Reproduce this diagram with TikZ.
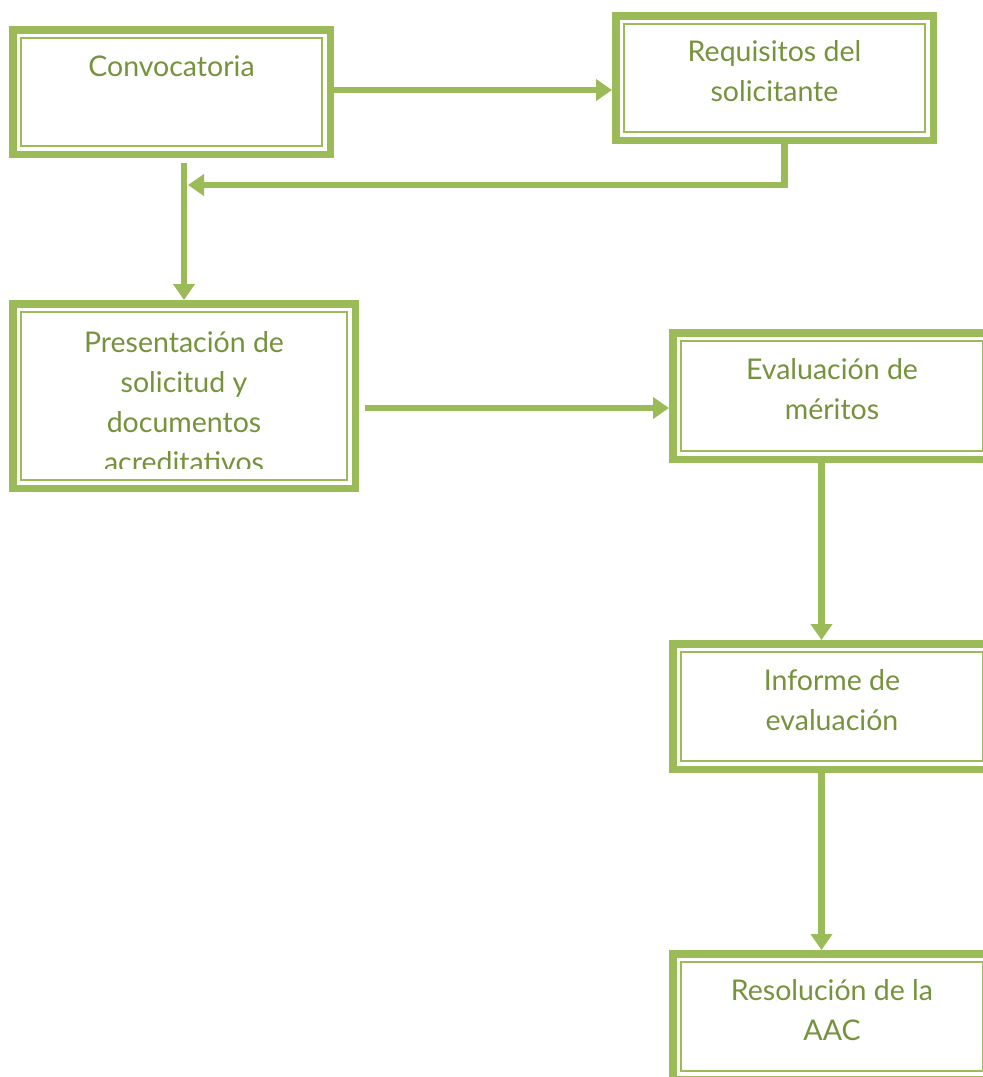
\documentclass[tikz,border=0pt]{standalone}
\usepackage{fontspec}
\setmainfont{Lato}
\usetikzlibrary{calc,arrows.meta}
\definecolor{frame}{HTML}{9BBB59}
\definecolor{txt}{HTML}{76923C}
\tikzset{
  box/.style={draw=frame, line width=7.5pt, fill=white, rectangle, inner sep=0pt, outer sep=3.75pt},
  inframe/.style={draw=frame, line width=2.2pt},
  lbl/.style={text=txt, font=\fontsize{28.5}{40}\selectfont, align=center, inner sep=0pt, anchor=base},
  arr/.style={draw=frame, line width=6.5pt, -{Triangle[width=21pt,length=16pt]}},
}
\begin{document}
\begin{tikzpicture}[x=1pt,y=-1pt]
\useasboundingbox (0,0) rectangle (983,1077);
\clip (0,0) rectangle (983,1077);
% boxes
\node[box, minimum width=317.5pt, minimum height=124.5pt] (b1) at (171.5,92) {};
\node[box, minimum width=317.5pt, minimum height=124.5pt] (b2) at (774.5,78) {};
\node[box, minimum width=342.5pt, minimum height=184.5pt] (b3) at (184,396) {};
\node[box, minimum width=318.5pt, minimum height=126.5pt] (b4) at (832,396) {};
\node[box, minimum width=318.5pt, minimum height=125.5pt] (b5) at (832,706.5) {};
\node[box, minimum width=318.5pt, minimum height=125.5pt] (b6) at (832,1016.5) {};
\foreach \b in {b1,b2,b3,b4,b5,b6}{
  \draw[inframe] ($(\b.north west)+(12,12)$) rectangle ($(\b.south east)+(-12,-12)$);
}
% labels (anchor = baseline of the last line)
\node[lbl] (t1) at ($(b1.north)+(0,50)$) {Convocatoria};
\node[lbl] (t2) at ($(b2.north)+(0,89)$) {Requisitos del\\solicitante};
\begin{scope}
\clip (9,300) rectangle (359,468);
\node[lbl] (t3) at ($(b3.north)+(0,172)$) {Presentación de\\solicitud y\\documentos\\acreditativos};
\end{scope}
\node[lbl] (t4) at ($(b4.north)+(0,90)$) {Evaluación de\\méritos};
\node[lbl] (t5) at ($(b5.north)+(0,90)$) {Informe de\\evaluación};
\node[lbl] (t6) at ($(b6.north)+(0,90)$) {Resolución de la\\AAC};
% connectors
\coordinate (j) at (184,163);
\coordinate (a1) at ($(b1.east)+(0,-2)$);
\coordinate (a2) at ($(b2.south)+(10,0)$);
\coordinate (a3) at ($(j)+(4,22)$);
\coordinate (a4) at ($(b3.east)+(6,12)$);
\draw[arr] (a1) -- (a1 -| b2.west);
\draw[arr] (a2) |- (a3);
\draw[arr] (j) -- (b3.north);
\draw[arr] (a4) -- (a4 -| b4.west);
\draw[arr] ($(b4.south)+(-10.5,0)$) -- ($(b5.north)+(-10.5,0)$);
\draw[arr] ($(b5.south)+(-10.5,0)$) -- ($(b6.north)+(-10.5,0)$);
\end{tikzpicture}
\end{document}
